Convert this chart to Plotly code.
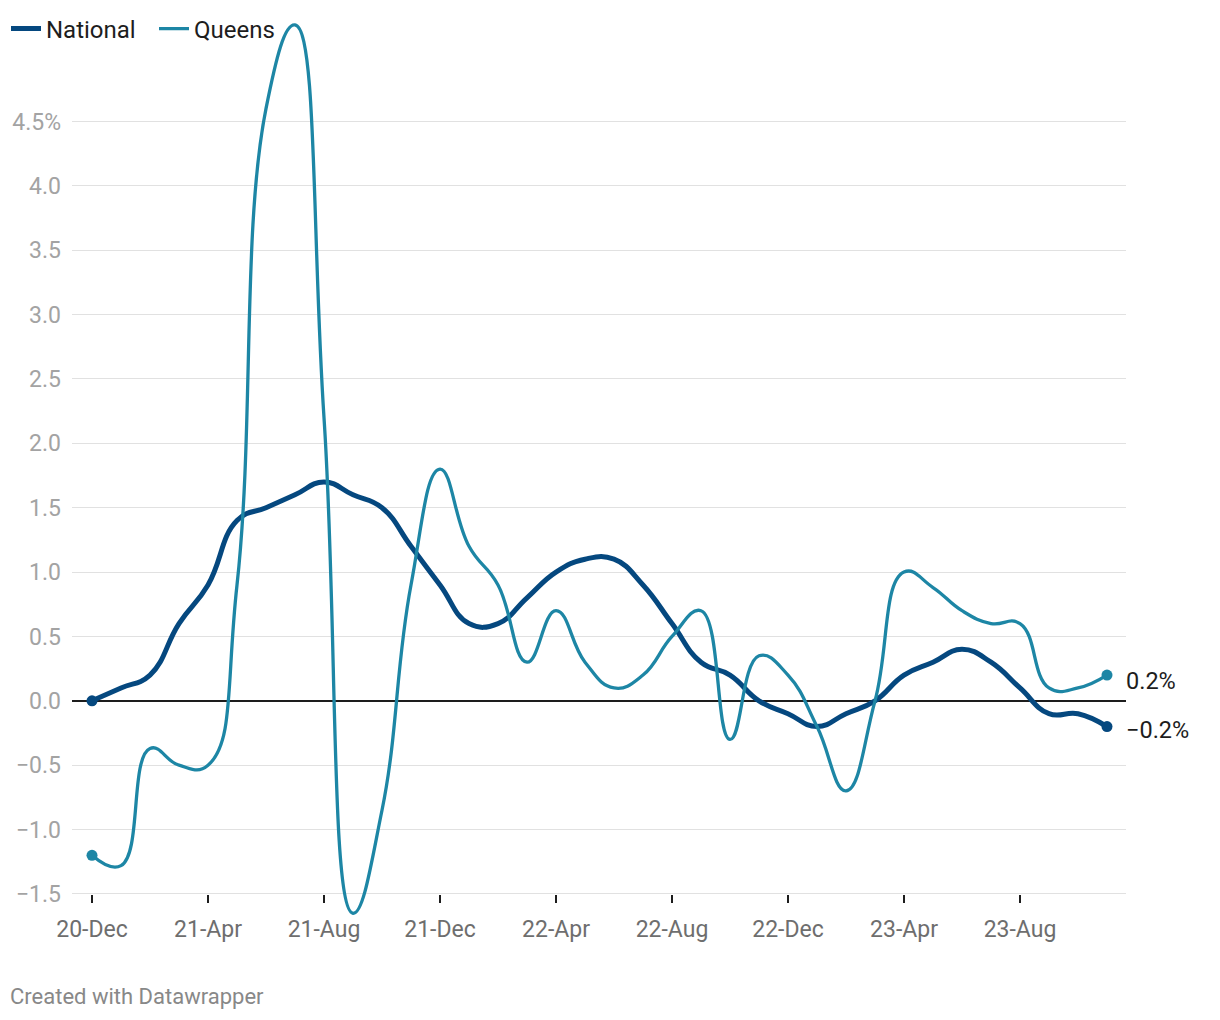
import plotly.graph_objects as go

# ---------------- data ----------------
months = [
    "20-Dec",
    "21-Jan", "21-Feb", "21-Mar", "21-Apr", "21-May", "21-Jun",
    "21-Jul", "21-Aug", "21-Sep", "21-Oct", "21-Nov", "21-Dec",
    "22-Jan", "22-Feb", "22-Mar", "22-Apr", "22-May", "22-Jun",
    "22-Jul", "22-Aug", "22-Sep", "22-Oct", "22-Nov", "22-Dec",
    "23-Jan", "23-Feb", "23-Mar", "23-Apr", "23-May", "23-Jun",
    "23-Jul", "23-Aug", "23-Sep", "23-Oct", "23-Nov",
]

national = [
    0.0, 0.1, 0.2, 0.6, 0.9, 1.4, 1.5, 1.6, 1.7, 1.6, 1.5, 1.2,
    0.9, 0.6, 0.6, 0.8, 1.0, 1.1, 1.1, 0.9, 0.6, 0.3, 0.2, 0.0,
    -0.1, -0.2, -0.1, 0.0, 0.2, 0.3, 0.4, 0.3, 0.1, -0.1, -0.1, -0.2,
]

queens = [
    -1.2, -1.28, -0.37, -0.5, -0.5, 0.9, 4.6, 5.25, 2.2, -1.65, -0.85, 0.9,
    1.8, 1.2, 0.9, 0.3, 0.7, 0.3, 0.1, 0.2, 0.5, 0.7, -0.3, 0.35,
    0.2, -0.2, -0.7, 0.0, 1.0, 0.88, 0.7, 0.6, 0.6, 0.1, 0.1, 0.2,
]

series_names = ["National", "Queens"]
y_tick_values = [-1.5, -1.0, -0.5, 0.0, 0.5, 1.0, 1.5, 2.0, 2.5, 3.0, 3.5, 4.0, 4.5]
x_tick_labels = months[::4]

# ---------------- style ----------------
colors = {"National": "#05487f", "Queens": "#1d86a5"}
widths = {"National": 5, "Queens": 3.3}
label_yshift = {"National": -3, "Queens": -6}
FONT = "Roboto, 'Noto Sans', sans-serif"
TEXT = "#1d1d1d"

W, H = 1220, 1020
ML, MR, MT, MB = 72, 94, 11.5, 90
PW = W - ML - MR
PH = H - MT - MB


def fmt(v):
    s = f"{abs(v):.1f}"
    return ("\u2212" + s) if v < 0 else s


y_tick_text = [fmt(v) for v in y_tick_values]
y_tick_text[-1] = y_tick_text[-1] + "%"

fig = go.Figure()
data = {"National": national, "Queens": queens}
for name in series_names:
    vals = data[name]
    fig.add_trace(go.Scatter(
        x=months, y=vals, name=name, mode="lines",
        line=dict(color=colors[name], width=widths[name], shape="spline", smoothing=1.3),
        hoverinfo="skip",
    ))
    fig.add_trace(go.Scatter(
        x=[months[0], months[-1]], y=[vals[0], vals[-1]], mode="markers",
        marker=dict(color=colors[name], size=11), showlegend=False, hoverinfo="skip",
    ))
    fig.add_annotation(
        x=months[-1], y=vals[-1], xref="x", yref="y",
        text=fmt(vals[-1]) + "%", showarrow=False, xanchor="left", yanchor="middle",
        xshift=17, yshift=label_yshift[name],
        font=dict(family=FONT, size=23.5, color=TEXT),
    )

fig.add_annotation(
    xref="paper", yref="paper", x=(8 - ML) / PW, y=(PH - (997 - MT)) / PH,
    xanchor="left", yanchor="middle", showarrow=False,
    text="Created with Datawrapper",
    font=dict(family=FONT, size=22, color="#888888"),
)

fig.update_layout(
    width=W, height=H,
    margin=dict(l=ML, r=MR, t=MT, b=MB, autoexpand=False),
    paper_bgcolor="white", plot_bgcolor="white",
    font=dict(family=FONT, color=TEXT),
    showlegend=True,
    legend=dict(
        orientation="h", x=(6 - ML) / PW, xanchor="left",
        y=1 + (MT - 6) / PH, yanchor="top",
        font=dict(family=FONT, size=24, color=TEXT),
        bgcolor="rgba(0,0,0,0)", traceorder="normal",
        entrywidth=103,
    ),
    xaxis=dict(
        type="category", range=[-20 / 29, 35 + 19 / 29],
        tickmode="array", tickvals=x_tick_labels, ticktext=x_tick_labels,
        ticks="outside", ticklen=8, tickwidth=2, tickcolor=TEXT,
        showgrid=False, zeroline=False, showline=False,
        anchor="free", position=(930 - 894) / PH,
        tickfont=dict(family=FONT, size=23, color="#6e6e6e"),
        ticklabelstandoff=6,
    ),
    yaxis=dict(
        range=[-1.78, 5.35],
        tickmode="array", tickvals=y_tick_values, ticktext=y_tick_text,
        showgrid=True, gridcolor="#e1e1e1", gridwidth=1.2,
        zeroline=True, zerolinecolor=TEXT, zerolinewidth=1.6,
        ticks="", showline=False,
        tickfont=dict(family=FONT, size=23, color="#a3a3a3"),
        ticklabelstandoff=10,
    ),
)

fig.write_html("out.html")
